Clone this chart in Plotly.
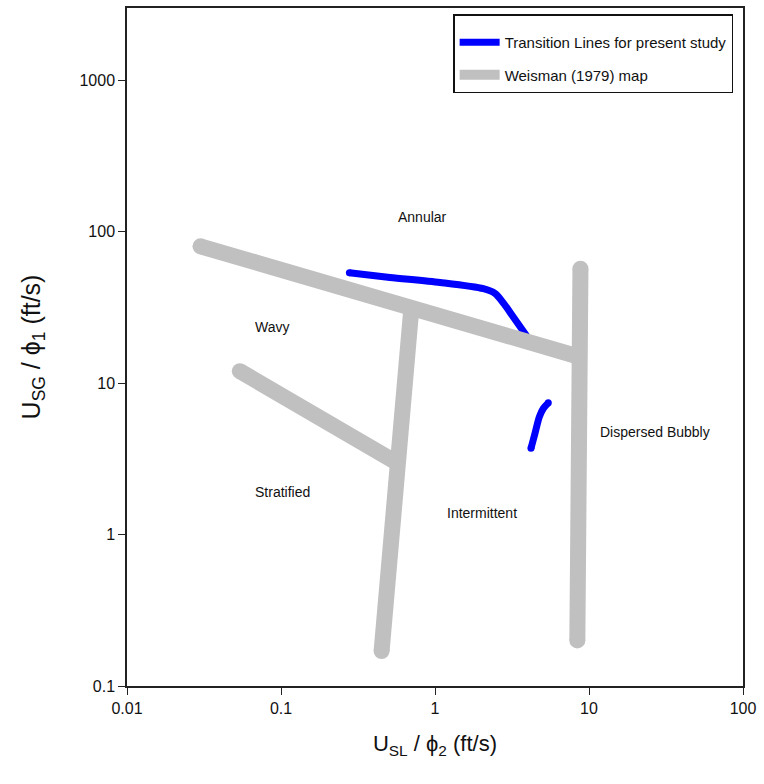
import numpy as np
import plotly.graph_objects as go

# ---- data ----
# Transition lines for present study (two segments)
blue1_x = [0.278, 0.51, 1.08, 2.06, 2.45, 2.80, 3.25, 4.0]
blue1_y = [53.5, 49.9, 46.2, 42.0, 39.1, 33.5, 27.0, 20.0]
blue2_x = [5.44, 5.05, 4.76, 4.46, 4.20]
blue2_y = [7.41, 6.8, 5.99, 4.66, 3.71]

# Weisman (1979) map boundaries (four straight segments)
w1_x = [0.03, 8.5]
w1_y = [80, 15]
w2_x = [0.70, 0.45]
w2_y = [30, 0.17]
w3_x = [0.054, 0.56]
w3_y = [12, 3.0]
w4_x = [8.8, 8.4]
w4_y = [57, 0.2]

region_labels = ["Annular", "Wavy", "Stratified", "Intermittent", "Dispersed Bubbly"]
region_x = [0.835, 0.0874, 0.103, 2.02, 26.8]
region_y = [125, 23.4, 1.91, 1.39, 4.75]

x_ticks = [0.01, 0.1, 1, 10, 100]
x_ticktext = ["0.01", "0.1", "1", "10", "100"]
y_ticks = [0.1, 1, 10, 100, 1000]
y_ticktext = ["0.1", "1", "10", "100", "1000"]

BLUE = "#0000ff"
GRAY = "#c0c0c0"
FONT = "Liberation Sans, Arial, sans-serif"


def join(segs):
    out = []
    for i, s in enumerate(segs):
        if i:
            out.append(None)
        out.extend(s)
    return out


def ends(segs):
    out = []
    for s in segs:
        out.extend([s[0], s[-1]])
    return out


blue_xs = [blue1_x, blue2_x]
blue_ys = [blue1_y, blue2_y]
gray_xs = [w1_x, w2_x, w3_x, w4_x]
gray_ys = [w1_y, w2_y, w3_y, w4_y]

fig = go.Figure()
fig.add_trace(go.Scatter(
    x=join(blue_xs), y=join(blue_ys), mode="lines",
    line=dict(color=BLUE, width=7, shape="spline", smoothing=0.8),
    name="Transition Lines for present study", legendgroup="a"))
fig.add_trace(go.Scatter(
    x=[blue1_x[0], blue2_x[0], blue2_x[-1]], y=[blue1_y[0], blue2_y[0], blue2_y[-1]],
    mode="markers", marker=dict(color=BLUE, size=7, line=dict(width=0)),
    showlegend=False, hoverinfo="skip"))
fig.add_trace(go.Scatter(
    x=join(gray_xs), y=join(gray_ys), mode="lines",
    line=dict(color=GRAY, width=16), name="Weisman (1979) map",
    legendgroup="b"))
fig.add_trace(go.Scatter(
    x=ends(gray_xs), y=ends(gray_ys), mode="markers",
    marker=dict(color=GRAY, size=16, line=dict(width=0)),
    showlegend=False, hoverinfo="skip"))

for t, x, y in zip(region_labels, region_x, region_y):
    fig.add_annotation(x=np.log10(x), y=np.log10(y), xref="x", yref="y", text=t,
                       showarrow=False,
                       font=dict(family=FONT, size=14, color="#111"))

fig.update_xaxes(
    type="log", range=[-2, 2], tickvals=x_ticks, ticktext=x_ticktext,
    showgrid=False, zeroline=False, showline=True, mirror=True,
    linecolor="#222", linewidth=1.5, ticks="outside", ticklen=7, tickcolor="#222",
    tickfont=dict(family=FONT, size=16, color="#111"),
    title=dict(text="U<sub>SL</sub> / ϕ<sub>2</sub> (ft/s)",
               font=dict(family=FONT, size=22, color="#111"), standoff=20))
fig.update_yaxes(
    type="log", range=[-1, 3.477], tickvals=y_ticks, ticktext=y_ticktext,
    showgrid=False, zeroline=False, showline=True, mirror=True,
    linecolor="#222", linewidth=1.5, ticks="outside", ticklen=7, tickcolor="#222",
    tickfont=dict(family=FONT, size=16, color="#111"),
    title=dict(text="U<sub>SG</sub> / ϕ<sub>1</sub> (ft/s)",
               font=dict(family=FONT, size=25, color="#111"), standoff=32))

fig.update_layout(
    width=764, height=784,
    margin=dict(l=127, r=21, t=8, b=98, autoexpand=False),
    plot_bgcolor="white", paper_bgcolor="white",
    showlegend=True,
    legend=dict(x=0.984, y=0.991, xanchor="right", yanchor="top",
                bgcolor="white", bordercolor="#111", borderwidth=1.5,
                font=dict(family=FONT, size=15, color="#111"),
                title=dict(text=" ", font=dict(size=8), side="top"),
                tracegroupgap=10, itemwidth=40),
)

fig.write_html("out.html")
